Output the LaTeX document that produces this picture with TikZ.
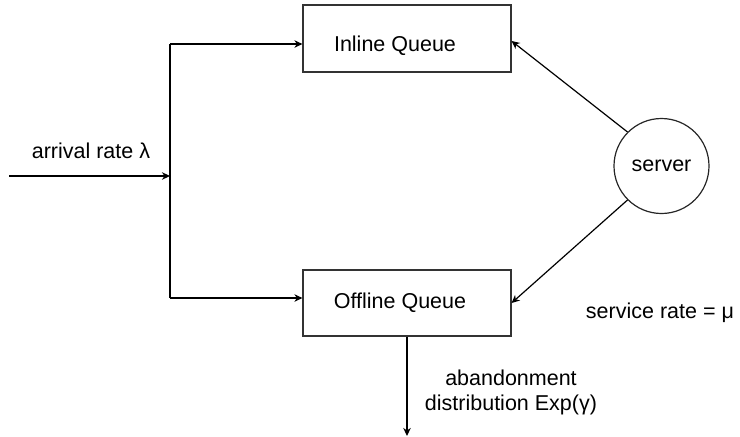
\documentclass[tikz,border=0pt]{standalone}
\usepackage{fontspec}
\setmainfont{Liberation Sans}
\usetikzlibrary{arrows.meta,calc}
\begin{document}
\begin{tikzpicture}[x=1pt,y=-1pt,
  every node/.style={font=\fontsize{21.5}{25}\selectfont, inner sep=0pt},
  qbox/.style={draw=black!80, line width=1.2pt, minimum width=208pt, minimum height=67pt},
  srv/.style={draw=black!85, line width=1.2pt, circle, minimum size=95pt},
  arr/.style={line width=1.2pt, -{Stealth[length=8pt,width=7.5pt,inset=2.5pt]}},
  ln/.style={line width=1.2pt}
]
\useasboundingbox (0,0) rectangle (740,437);
\node[qbox, label={[xshift=-12pt,yshift=-7.5pt]center:Inline Queue}] (inline) at (407,38.5) {};
\node[qbox, minimum height=66pt, label={[xshift=-7pt]center:Offline Queue}] (offline) at (407,303) {};
\node[srv] (server) at (661.5,166) {server};
\coordinate (src) at (9,176);
\coordinate (j) at (170,176);
\coordinate (t) at (170,44);
\coordinate (b) at (170,298);
\coordinate (sink) at (407,436);
\draw[arr] (src) -- (j);
\draw[ln] (t) -- (b);
\draw[arr] (t) -- (t -| inline.west);
\draw[arr] (b) -- (b -| offline.west);
\draw[arr] (server.135) -- ($(inline.east)+(0,2.5)$);
\draw[arr] (server.225) -- (offline.east);
\draw[arr] (offline.south) -- (sink);
\node (lam) at (91,151) {arrival rate λ};
\node (mu) at (660,313) {service rate = μ};
\node[align=center] (ab) at (511,392) {abandonment\\distribution Exp(γ)};
\end{tikzpicture}
\end{document}
